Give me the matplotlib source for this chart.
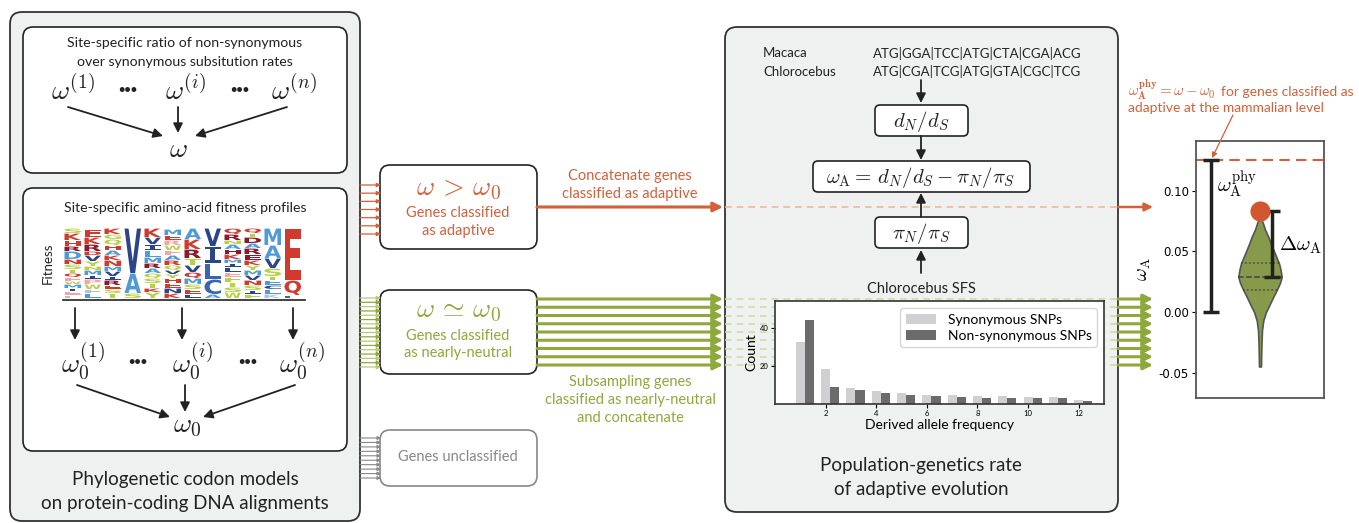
import numpy as np
import matplotlib
matplotlib.use('Agg')
import matplotlib.pyplot as plt
from matplotlib.patches import FancyBboxPatch, PathPatch
from matplotlib.textpath import TextPath
from matplotlib.font_manager import FontProperties
from matplotlib.transforms import Affine2D

plt.rcParams['font.family'] = ['Lato', 'DejaVu Sans']
plt.rcParams['mathtext.fontset'] = 'cm'
plt.rcParams['axes.unicode_minus'] = False

ORANGE = '#d4603a'
GREEN = '#8fa83c'
DARK = '#222222'
PANEL = '#eff0f0'

# --- data ---
# site frequency spectrum (Chlorocebus)
sfs_freq = [1, 2, 3, 4, 5, 6, 7, 8, 9, 10, 11, 12]
sfs_syn = [32.6, 18.6, 8.6, 6.8, 6.0, 4.7, 4.7, 4.2, 4.2, 3.7, 3.7, 2.3]
sfs_nonsyn = [44.2, 9.1, 7.4, 6.0, 4.7, 4.0, 3.7, 3.2, 3.2, 3.2, 3.2, 1.6]

# omega_A violin (profile half-widths, px)
violin_y = [-0.045, -0.035, -0.025, -0.015, -0.007, 0.0, 0.005, 0.012, 0.018,
            0.024, 0.029, 0.035, 0.040, 0.045, 0.050, 0.056, 0.062, 0.068,
            0.073, 0.076, 0.078]
violin_hw = [1.0, 1.2, 1.5, 2.0, 3.3, 6.0, 9.0, 13.0, 16.7, 20.0, 21.7, 20.5,
             19.0, 16.5, 14.0, 11.0, 8.3, 5.0, 3.0, 1.5, 0.5]
violin_q1, violin_median, violin_q3 = 0.018, 0.029, 0.040
omega_a_adaptive = 0.083
omega_a_phy = 0.125
omega_a_ticks = [-0.05, 0.0, 0.05, 0.10]
omega_a_ticklabels = ['-0.05', '0.00', '0.05', '0.10']

seq_names = ['Macaca', 'Chlorocebus']
seqs = ['ATG|GGA|TCC|ATG|CTA|CGA|ACG', 'ATG|CGA|TCG|ATG|GTA|CGC|TCG']

# sequence logo, bottom -> top: (letter, height, colour key)
logo_colors = {'R': '#d23a30', 'D': '#8b1a2b', 'B': '#2a4589', 'M': '#3b64b4',
               'L': '#4f9bd8', 'G': '#b9d04a', 'P': '#f3a7a3', 'b': '#a9c4e8'}
logo_columns = [
    [('L', 3, 'b'), ('E', 4, 'P'), ('I', 3, 'B'), ('M', 4, 'L'), ('W', 3, 'G'), ('F', 4, 'P'),
     ('Q', 4, 'R'), ('T', 4, 'G'), ('S', 5, 'G'), ('N', 5, 'R'), ('D', 8, 'L'), ('R', 5, 'D'),
     ('H', 6, 'R'), ('K', 7, 'R'), ('S', 5, 'G')],
    [('L', 5, 'L'), ('F', 4, 'b'), ('W', 5, 'G'), ('P', 5, 'P'), ('I', 4, 'B'), ('M', 5, 'L'),
     ('N', 4, 'G'), ('Y', 5, 'G'), ('V', 6, 'B'), ('D', 4, 'R'), ('R', 7, 'D'), ('K', 7, 'R'),
     ('E', 8, 'R')],
    [('T', 5, 'G'), ('S', 4, 'G'), ('E', 4, 'R'), ('R', 5, 'D'), ('I', 4, 'B'), ('V', 5, 'B'),
     ('M', 5, 'L'), ('N', 6, 'R'), ('K', 5, 'R'), ('A', 5, 'L'), ('H', 5, 'R'), ('Q', 6, 'G'),
     ('G', 5, 'G'), ('K', 6, 'R')],
    [('S', 5, 'G'), ('A', 20, 'L'), ('V', 45, 'B')],
    [('Y', 6, 'G'), ('K', 4, 'R'), ('T', 5, 'G'), ('S', 5, 'G'), ('Q', 5, 'G'), ('A', 5, 'L'),
     ('R', 5, 'D'), ('M', 6, 'L'), ('L', 7, 'L'), ('I', 6, 'B'), ('V', 7, 'B'), ('K', 9, 'R')],
    [('K', 5, 'R'), ('N', 5, 'B'), ('E', 5, 'R'), ('H', 5, 'R'), ('Y', 4, 'G'), ('V', 4, 'B'),
     ('Q', 5, 'G'), ('R', 5, 'R'), ('A', 5, 'L'), ('F', 5, 'P'), ('W', 5, 'G'), ('R', 5, 'P'),
     ('E', 5, 'R'), ('M', 6, 'L')],
    [('L', 4, 'B'), ('E', 5, 'R'), ('S', 5, 'G'), ('M', 6, 'L'), ('Q', 6, 'R'), ('V', 7, 'B'),
     ('T', 7, 'G'), ('R', 9, 'D'), ('K', 10, 'R'), ('A', 11, 'L')],
    [('A', 4, 'L'), ('C', 15, 'M'), ('L', 16, 'M'), ('I', 17, 'B'), ('V', 18, 'B')],
    [('W', 6, 'G'), ('S', 5, 'G'), ('T', 5, 'G'), ('F', 5, 'G'), ('E', 5, 'P'), ('L', 5, 'B'),
     ('I', 4, 'B'), ('M', 4, 'L'), ('K', 5, 'R'), ('H', 5, 'D'), ('A', 5, 'L'), ('N', 4, 'G'),
     ('R', 6, 'D'), ('Q', 6, 'R')],
    [('F', 4, 'G'), ('I', 4, 'B'), ('S', 5, 'G'), ('N', 5, 'R'), ('V', 5, 'B'), ('M', 5, 'L'),
     ('Y', 5, 'G'), ('K', 5, 'R'), ('E', 6, 'D'), ('R', 6, 'D'), ('A', 5, 'L'), ('D', 6, 'D'),
     ('T', 4, 'G'), ('Q', 5, 'R')],
    [('K', 4, 'b'), ('L', 5, 'L'), ('C', 4, 'B'), ('E', 5, 'L'), ('T', 4, 'G'), ('S', 8, 'G'),
     ('V', 10, 'B'), ('A', 13, 'L'), ('M', 17, 'L')],
    [('L', 3, 'M'), ('Q', 15, 'R'), ('E', 52, 'R')],
]

# --- canvas in pixel coordinates ---
fig = plt.figure(figsize=(13.59, 5.23), dpi=100)
ax = fig.add_axes([0, 0, 1, 1])
ax.set_xlim(0, 1359)
ax.set_ylim(523, 0)
ax.axis('off')


def rbox(x0, y0, x1, y1, fc='white', ec=DARK, lw=1.2, r=10, z=1):
    ax.add_patch(FancyBboxPatch((x0, y0), x1 - x0, y1 - y0,
                                boxstyle=f"round,pad=0,rounding_size={r}",
                                fc=fc, ec=ec, lw=lw, zorder=z))


def arrow(x0, y0, x1, y1, color=DARK, lw=1.3, ms=14, z=3, on=None):
    (on or ax).annotate('', xy=(x1, y1), xytext=(x0, y0), zorder=z,
                        arrowprops=dict(arrowstyle='-|>', color=color, lw=lw,
                                        mutation_scale=ms, shrinkA=0, shrinkB=0))


def txt(x, y, s, size=9.5, color=DARK, **kw):
    kw.setdefault('ha', 'center')
    kw.setdefault('va', 'center')
    ax.text(x, y, s, fontsize=size, color=color, zorder=4, **kw)


# left panel
rbox(10, 12, 360, 521, fc=PANEL, ec='#333333', lw=1.3, r=12)
rbox(23, 27, 347, 173, r=10, z=2)
rbox(23, 188, 347, 451, r=10, z=2)

txt(185, 43, 'Site-specific ratio of non-synonymous', size=10.2)
txt(185, 62, 'over synonymous subsitution rates', size=10.2)
txt(73, 100, r'$\omega^{(1)}$', size=20, va='baseline')
txt(185, 100, r'$\omega^{(i)}$', size=20, va='baseline')
txt(294, 100, r'$\omega^{(n)}$', size=20, va='baseline')
txt(128, 89, '•••', size=8, fontweight='bold')
txt(240, 89, '•••', size=8, fontweight='bold')
txt(178, 157, r'$\omega$', size=20, va='baseline')
arrow(68, 107, 163, 136)
arrow(178, 107, 178, 133)
arrow(287, 107, 195, 136)

txt(185, 208, 'Site-specific amino-acid fitness profiles', size=10.2)
txt(48, 263, 'Fitness', size=9.5, rotation=90)
fp = FontProperties(family='DejaVu Sans', weight='bold')
fp_i = FontProperties(family='DejaVu Sans Mono', weight='bold')
for i, col in enumerate(logo_columns):
    ybase = 298
    for letter, h, ck in col:
        tp = TextPath((0, 0), letter, size=10, prop=fp_i if letter == 'I' else fp)
        ext = tp.get_extents()
        tr = (Affine2D().translate(-ext.x0, -ext.y0)
              .scale(16.5 / ext.width, -(h - 0.6) / ext.height)
              .translate(64.5 + 20 * i, ybase))
        ax.add_patch(PathPatch(tr.transform_path(tp), fc=logo_colors[ck],
                               lw=0, zorder=3))
        ybase -= h
ax.plot([63, 305], [300, 300], color=DARK, lw=1.2, zorder=3)
for xa in [75, 182, 293]:
    arrow(xa, 308, xa, 340)
txt(83, 373, r'$\omega_0^{(1)}$', size=20, va='baseline')
txt(192, 373, r'$\omega_0^{(i)}$', size=20, va='baseline')
txt(302, 373, r'$\omega_0^{(n)}$', size=20, va='baseline')
txt(138, 361, '•••', size=8, fontweight='bold')
txt(248, 361, '•••', size=8, fontweight='bold')
arrow(77, 385, 170, 417)
arrow(185, 385, 185, 412)
arrow(295, 385, 203, 417)
txt(187, 432, r'$\omega_0$', size=20, va='baseline')
txt(185, 480, 'Phylogenetic codon models', size=13.5)
txt(185, 503, 'on protein-coding DNA alignments', size=13.5)

# gene class boxes
for y in np.linspace(185, 234, 7):
    arrow(360, y, 381, y, color=ORANGE, lw=0.9, ms=6)
for k, y in enumerate(np.linspace(298, 367, 17)):
    arrow(360, y, 381, y, color=GREEN if k % 2 else '#b8c97a', lw=0.9, ms=6)
for y in np.linspace(438, 478, 10):
    arrow(360, y, 381, y, color='#888888', lw=0.8, ms=5)

rbox(380, 165, 537, 249, r=10, z=2)
txt(458, 195, r'$\omega\, >\, \omega_0$', size=20, color=ORANGE, va='baseline')
txt(458, 213, 'Genes classified', size=10.5, color=ORANGE)
txt(458, 231, 'as adaptive', size=10.5, color=ORANGE)

rbox(380, 290, 537, 374, r=10, z=2)
txt(458, 317, r'$\omega\, \simeq\, \omega_0$', size=20, color=GREEN, va='baseline')
txt(458, 336, 'Genes classified', size=10.5, color=GREEN)
txt(458, 353, 'as nearly-neutral', size=10.5, color=GREEN)

rbox(380, 430, 537, 486, ec='#888888', r=10, z=2)
txt(458, 457, 'Genes unclassified', size=10.5, color='#888888')

# flows to the population-genetics panel
neutral_ys = np.linspace(299, 365, 9)
arrow(537, 207, 723, 207, color=ORANGE, lw=2.2, ms=14)
for y in neutral_ys:
    arrow(537, y, 723, y, color=GREEN, lw=2.2, ms=14)
txt(630, 176, 'Concatenate genes', size=10.5, color=ORANGE)
txt(630, 194, 'classified as adaptive', size=10.5, color=ORANGE)
txt(630, 382, 'Subsampling genes', size=10.5, color=GREEN)
txt(630, 400, 'classified as nearly-neutral', size=10.5, color=GREEN)
txt(630, 418, 'and concatenate', size=10.5, color=GREEN)

# middle panel
rbox(725, 27, 1118, 512, fc=PANEL, ec='#333333', lw=1.3, r=12)
ax.plot([725, 1118], [207, 207], color='#f0b89e', lw=1.2, ls=(0, (4, 3)), zorder=2)
for y in neutral_ys:
    ax.plot([725, 1118], [y, y], color='#d2dca5', lw=1.2, ls=(0, (4, 3)), zorder=2)
for k in range(2):
    txt(763, 53 + 19 * k, seq_names[k], ha='left', size=9.5)
    txt(873, 53 + 19 * k, seqs[k], ha='left', size=9.5)
arrow(921, 80, 921, 103)
rbox(875, 105, 968, 136, r=5, z=2)
txt(921, 121, r'$d_N/d_S$', size=15)
arrow(921, 136, 921, 160)
rbox(813, 161, 1030, 192, r=5, z=2)
txt(921, 177, r'$\omega_{\rm A} =\, d_N/d_S - \pi_N/\pi_S$', size=15)
rbox(875, 217, 968, 248, r=5, z=2)
txt(921, 233, r'$\pi_N/\pi_S$', size=15)
arrow(921, 217, 921, 193)
arrow(921, 273, 921, 250)
txt(921, 289, 'Chlorocebus SFS', size=10.5)
txt(921, 466, 'Population-genetics rate', size=13.5)
txt(921, 490, 'of adaptive evolution', size=13.5)

# right side arrows and annotation
arrow(1118, 207, 1153, 207, color=ORANGE, lw=1.8, ms=12)
for y in neutral_ys:
    arrow(1118, y, 1153, y, color=GREEN, lw=2.2, ms=14)
txt(1128, 96, r'$\omega_{\mathbf{A}}^{\mathbf{phy}} = \omega - \omega_0$',
    color=ORANGE, ha='left', va='baseline', size=10.8)
txt(1221, 92, 'for genes classified as', color=ORANGE, ha='left', size=10)
txt(1128, 108, 'adaptive at the mammalian level', color=ORANGE, ha='left', size=10)

# SFS inset
axb = fig.add_axes([775 / 1359, 1 - 404 / 523, 329 / 1359, 103 / 523])
fx = np.array(sfs_freq)
axb.bar(fx, sfs_syn, width=0.36, color='#d0d0d2', label='Synonymous SNPs')
axb.bar(fx + 0.36, sfs_nonsyn, width=0.36, color='#6b6b6b', label='Non-synonymous SNPs')
axb.set_xlim(0, 13)
axb.set_ylim(0, 54)
axb.set_xticks([2, 4, 6, 8, 10, 12])
axb.set_yticks([20, 40])
axb.tick_params(labelsize=5.5, length=3, pad=1.5)
for s in axb.spines.values():
    s.set_color('#333333')
    s.set_linewidth(1.2)
axb.set_ylabel('Count', fontsize=10, labelpad=2)
axb.set_xlabel('Derived allele frequency', fontsize=10, labelpad=1)
leg = axb.legend(loc='upper right', fontsize=10, frameon=True, fancybox=True,
                 handlelength=2.2, borderpad=0.4, labelspacing=0.3)
leg.get_frame().set_edgecolor('#cccccc')

# omega_A inset
axv = fig.add_axes([1196 / 1359, 1 - 398 / 523, 128 / 1359, 257 / 523])
axv.set_xlim(0, 128)
axv.set_ylim(-0.071, 0.141)
vy = np.array(violin_y)
vhw = np.array(violin_hw)
axv.fill_betweenx(vy, 64 - vhw, 64 + vhw, facecolor='#87994a', edgecolor='#555555', lw=1.2, zorder=2)
for q, ls in [(violin_q1, ':'), (violin_median, '--'), (violin_q3, ':')]:
    w = np.interp(q, vy, vhw)
    axv.plot([64 - w, 64 + w], [q, q], color='#444444', ls=ls, lw=1.1, zorder=3)
axv.axhline(omega_a_phy, color=ORANGE, ls=(0, (5, 3)), lw=1.5, zorder=1)
axv.scatter([64], [omega_a_adaptive], s=210, color='#d2572e', zorder=5, lw=0)
axv.errorbar([15], [omega_a_phy / 2], yerr=[omega_a_phy / 2], fmt='none', ecolor=DARK,
             elinewidth=2.5, capsize=5.8, capthick=2.5, zorder=4)
axv.errorbar([76], [(omega_a_adaptive + violin_median) / 2],
             yerr=[(omega_a_adaptive - violin_median) / 2], fmt='none', ecolor=DARK,
             elinewidth=2.5, capsize=5.8, capthick=2.5, zorder=4)
axv.text(21, 0.1047, r'$\omega_{\rm A}^{\rm phy}$', fontsize=15, va='center', ha='left')
axv.text(83, 0.055, r'$\Delta\omega_{\rm A}$', fontsize=15, va='center', ha='left')
axv.set_xticks([])
axv.set_yticks(omega_a_ticks)
axv.set_yticklabels(omega_a_ticklabels, fontfamily='DejaVu Sans')
axv.tick_params(labelsize=8.5, length=3, pad=2)
axv.set_ylabel(r'$\omega_{\rm A}$', fontsize=14, labelpad=4)
for s in axv.spines.values():
    s.set_color('#555555')
    s.set_linewidth(1.3)

# overlay for the annotation pointer, drawn above the inset
ov = fig.add_axes([0, 0, 1, 1], facecolor='none')
ov.set_xlim(0, 1359)
ov.set_ylim(523, 0)
ov.axis('off')
arrow(1233, 115, 1212, 158, color=ORANGE, lw=0.9, ms=8, on=ov)

fig.savefig('out.png', dpi=100)
